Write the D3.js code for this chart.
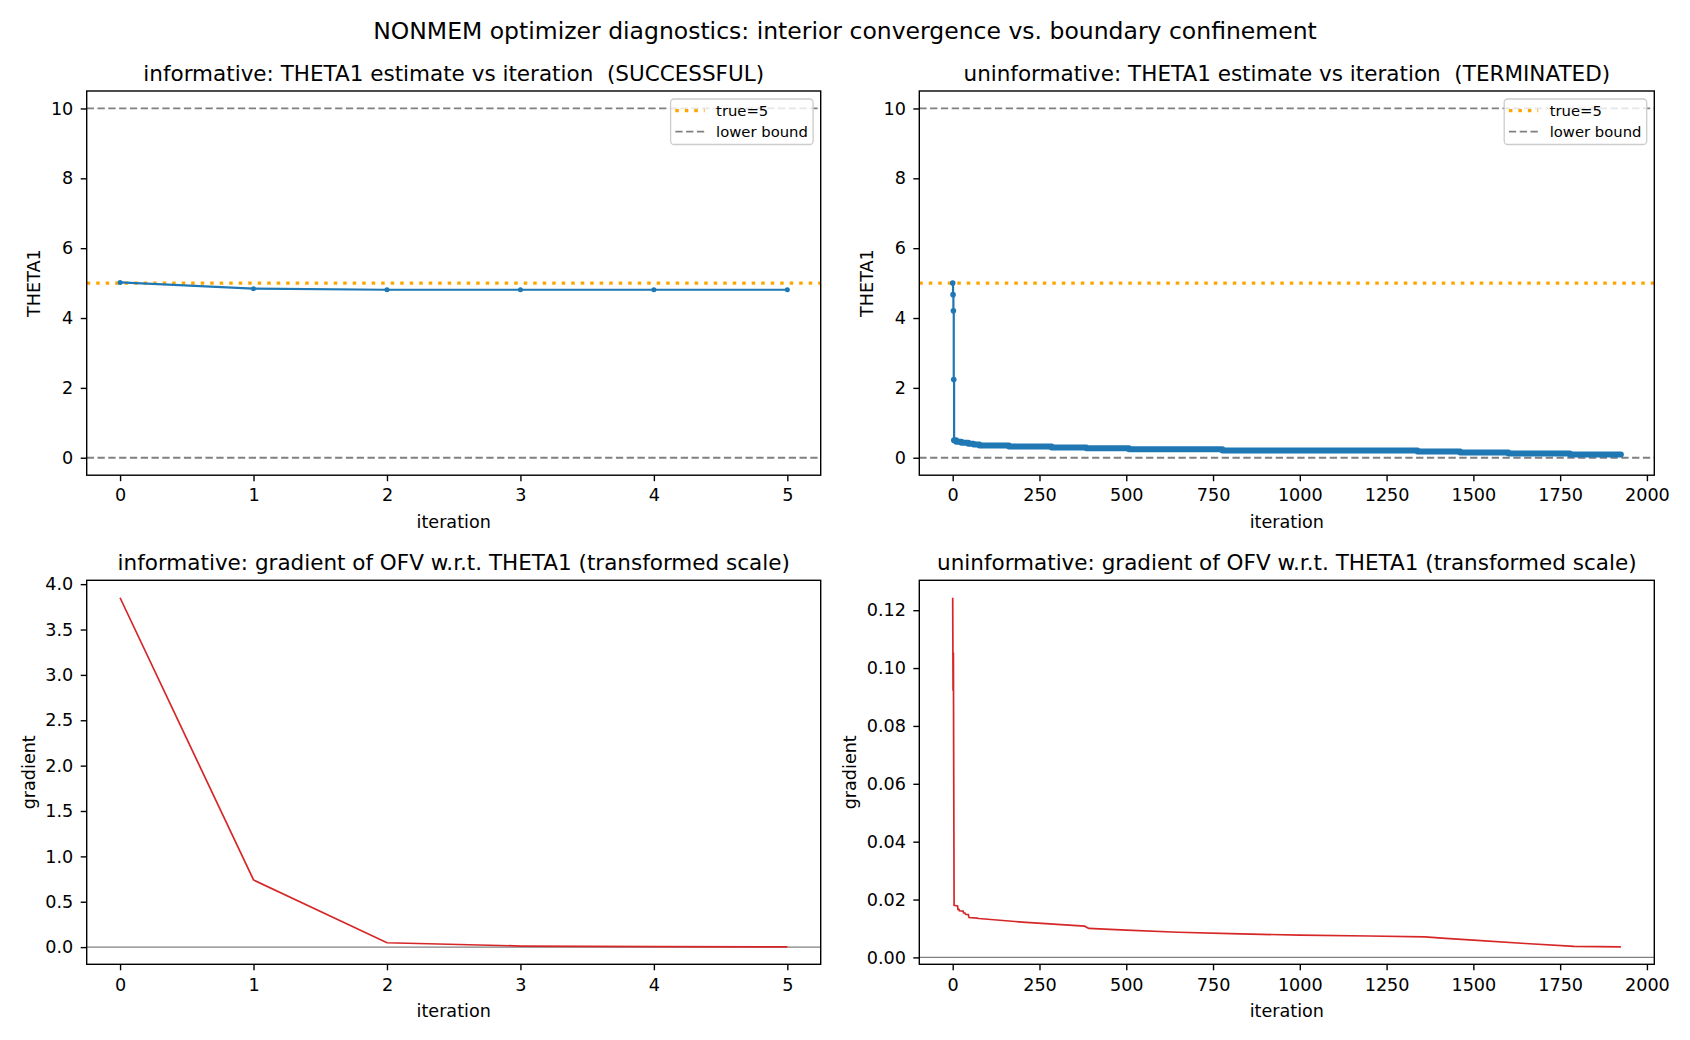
<!DOCTYPE html>
<html>
<head>
<meta charset="utf-8">
<script src="https://cdn.jsdelivr.net/npm/d3@7"></script>
<style>
  body { margin: 0; background: #fff; }
  text { font-family: "DejaVu Sans", sans-serif; fill: #000; }
</style>
</head>
<body>
<div id="chart"></div>
<script>
// ---- data ----
const infIter = [0, 1, 2, 3, 4, 5];
const infTheta = [5.02, 4.84, 4.81, 4.81, 4.81, 4.81];
const infGrad = [3.85, 0.74, 0.048, 0.012, 0.005, 0.003];

// uninformative run: estimate (step breakpoints) and gradient (vertices)
const unIter = [0, 1, 2, 3, 4, 10, 25, 45, 60, 77, 162, 285, 385, 508, 777, 1339, 1462, 1601, 1778, 1925];
const unTheta = [5.0, 4.67, 4.21, 2.24, 0.50, 0.46, 0.43, 0.40, 0.38, 0.35, 0.32, 0.29, 0.27, 0.24, 0.21, 0.18, 0.15, 0.12, 0.09, 0.09];
const unGradIter = [0, 1, 2, 4, 14, 15, 18, 19, 30, 31, 36, 37, 45, 47, 70, 75, 200, 380, 392, 500, 650, 800, 1000, 1200, 1360, 1420, 1500, 1650, 1790, 1925];
const unGrad = [0.1243, 0.0922, 0.1054, 0.0180, 0.0178, 0.0166, 0.0166, 0.0161, 0.0160, 0.0154, 0.0153, 0.0149, 0.0148, 0.0138, 0.0136, 0.01345, 0.0122, 0.0108, 0.0100, 0.0094, 0.0087, 0.0082, 0.0077, 0.0074, 0.0071, 0.0066, 0.0060, 0.0048, 0.0038, 0.00365];

const trueTheta = 5;
const boundLines = [0, 10];
const thetaTicks = [0, 2, 4, 6, 8, 10];
const infIterTicks = [0, 1, 2, 3, 4, 5];
const unIterTicks = [0, 250, 500, 750, 1000, 1250, 1500, 1750, 2000];
const infGradTicks = [0, 0.5, 1, 1.5, 2, 2.5, 3, 3.5, 4];
const unGradTicks = [0, 0.02, 0.04, 0.06, 0.08, 0.10, 0.12];

const legendItems = [
  { label: "true=5", color: "orange", dash: "3.5,6", width: 3.3 },
  { label: "lower bound", color: "#808080", dash: "7.3,3.5", width: 1.8 }
];

const width = 1690, height = 1040;
const tickFont = 17.6;

const svg = d3.select("#chart").append("svg")
  .attr("width", width)
  .attr("height", height);

svg.append("text")
  .attr("x", 845).attr("y", 39.3)
  .attr("text-anchor", "middle")
  .style("font-size", "23.5px")
  .text("NONMEM optimizer diagnostics: interior convergence vs. boundary confinement");

// pad a data extent like matplotlib autoscale (5%)
function padded(vals) {
  const [a, b] = d3.extent(vals);
  const m = (b - a) * 0.05;
  return [a - m, b + m];
}

function makePanel(opt) {
  const g = svg.append("g").attr("transform", `translate(${opt.x},${opt.y})`);
  const w = opt.w, h = opt.h;

  const x = d3.scaleLinear().domain(opt.xDomain).range([0, w]);
  const y = d3.scaleLinear().domain(opt.yDomain).range([h, 0]);

  const plot = g.append("g");

  // axes
  const xa = g.append("g").attr("transform", `translate(0,${h})`)
    .call(d3.axisBottom(x).tickValues(opt.xTicks).tickFormat(opt.xFormat || d3.format("d"))
      .tickSize(6).tickPadding(7.8).tickSizeOuter(0));
  const ya = g.append("g")
    .call(d3.axisLeft(y).tickValues(opt.yTicks).tickFormat(opt.yFormat || d3.format("d"))
      .tickSize(6).tickPadding(7.4).tickSizeOuter(0));
  [xa, ya].forEach(a => {
    a.attr("font-family", null).attr("font-size", null);
    a.select(".domain").remove();
    a.selectAll("line").attr("stroke", "#000").attr("stroke-width", 1.4);
    a.selectAll("text").style("font-size", tickFont + "px");
  });

  // frame
  g.append("rect").attr("width", w).attr("height", h)
    .attr("fill", "none").attr("stroke", "#000").attr("stroke-width", 1.4);

  // title
  g.append("text")
    .attr("x", w / 2).attr("y", -10)
    .attr("text-anchor", "middle")
    .style("font-size", "21.5px")
    .style("white-space", "pre")
    .text(opt.title);

  // x label
  g.append("text")
    .attr("x", w / 2).attr("y", h + 52.4)
    .attr("text-anchor", "middle")
    .style("font-size", tickFont + "px")
    .text("iteration");

  // y label placed left of the widest tick label
  let maxW = 0;
  ya.selectAll("text").each(function () { maxW = Math.max(maxW, this.getComputedTextLength()); });
  const bx = -13.4 - maxW - 10.5;
  g.append("text")
    .attr("transform", `translate(${bx},${h / 2}) rotate(-90)`)
    .attr("text-anchor", "middle")
    .style("font-size", tickFont + "px")
    .text(opt.yLabel);

  return { g: plot, x, y, w, h, root: g };
}

function drawLegend(p) {
  const lw = 142.5, lh = 45.5;
  const lg = p.root.append("g").attr("transform", `translate(${p.w - 7.6 - lw},8)`);
  lg.append("rect").attr("width", lw).attr("height", lh).attr("rx", 3.5)
    .attr("fill", "#fff").attr("fill-opacity", 0.8)
    .attr("stroke", "#cccccc").attr("stroke-width", 1.3);
  legendItems.forEach((d, i) => {
    const cy = 11.7 + i * 21;
    lg.append("line").attr("x1", 4.7).attr("x2", 34).attr("y1", cy).attr("y2", cy)
      .attr("stroke", d.color).attr("stroke-width", d.width).attr("stroke-dasharray", d.dash);
    lg.append("text").attr("x", 45.5).attr("y", cy + 5.3)
      .style("font-size", "14.8px").text(d.label);
  });
}

function refLines(p) {
  boundLines.forEach(v => {
    p.g.append("line").attr("x1", 0).attr("x2", p.w)
      .attr("y1", p.y(v)).attr("y2", p.y(v))
      .attr("stroke", "#808080").attr("stroke-width", 1.8).attr("stroke-dasharray", "7.3,3.5");
  });
  p.g.append("line").attr("x1", 0).attr("x2", p.w)
    .attr("y1", p.y(trueTheta)).attr("y2", p.y(trueTheta))
    .attr("stroke", "orange").attr("stroke-width", 3.3).attr("stroke-dasharray", "3.5,6");
}

function zeroLine(p) {
  p.g.append("line").attr("x1", 0).attr("x2", p.w)
    .attr("y1", p.y(0)).attr("y2", p.y(0))
    .attr("stroke", "#808080").attr("stroke-width", 1.3);
}

const blue = "#1f77b4", red = "#d62728";
const leftX = 86.7, rightX = 919.3, pw = 734, topY = 91, botY = 580.3, ph = 384.2;

// ---- top left: informative estimate ----
const p1 = makePanel({
  x: leftX, y: topY, w: pw, h: ph,
  xDomain: [-0.25, 5.25], yDomain: [-0.5, 10.5],
  xTicks: infIterTicks, yTicks: thetaTicks,
  title: "informative: THETA1 estimate vs iteration  (SUCCESSFUL)", yLabel: "THETA1"
});
refLines(p1);
const inf = infIter.map((t, i) => [t, infTheta[i]]);
p1.g.append("path").datum(inf)
  .attr("d", d3.line().x(d => p1.x(d[0])).y(d => p1.y(d[1])))
  .attr("fill", "none").attr("stroke", blue).attr("stroke-width", 2.2);
p1.g.selectAll("circle").data(inf).join("circle")
  .attr("cx", d => p1.x(d[0])).attr("cy", d => p1.y(d[1])).attr("r", 2.5).attr("fill", blue);
drawLegend(p1);

// ---- top right: uninformative estimate ----
const p2 = makePanel({
  x: rightX, y: topY, w: 735, h: ph,
  xDomain: padded(unIter), yDomain: [-0.5, 10.5],
  xTicks: unIterTicks, yTicks: thetaTicks,
  title: "uninformative: THETA1 estimate vs iteration  (TERMINATED)", yLabel: "THETA1"
});
refLines(p2);
const un = unIter.map((t, i) => [t, unTheta[i]]);
const stepLine = d3.line().x(d => p2.x(d[0])).y(d => p2.y(d[1])).curve(d3.curveStepAfter);
p2.g.append("path").datum(un).attr("d", stepLine)
  .attr("fill", "none").attr("stroke", blue).attr("stroke-width", 2.2);
// dense markers in the tail form a solid band
p2.g.append("path").datum(un.slice(4)).attr("d", stepLine)
  .attr("fill", "none").attr("stroke", blue).attr("stroke-width", 6)
  .attr("stroke-linecap", "round").attr("stroke-linejoin", "round");
p2.g.selectAll("circle").data(un.slice(0, 5)).join("circle")
  .attr("cx", d => p2.x(d[0])).attr("cy", d => p2.y(d[1])).attr("r", 2.8).attr("fill", blue);
drawLegend(p2);

// ---- bottom left: informative gradient ----
const p3 = makePanel({
  x: leftX, y: botY, w: pw, h: 384,
  xDomain: [-0.25, 5.25], yDomain: padded(infGrad),
  xTicks: infIterTicks, yTicks: infGradTicks, yFormat: d3.format(".1f"),
  title: "informative: gradient of OFV w.r.t. THETA1 (transformed scale)", yLabel: "gradient"
});
zeroLine(p3);
p3.g.append("path").datum(infIter.map((t, i) => [t, infGrad[i]]))
  .attr("d", d3.line().x(d => p3.x(d[0])).y(d => p3.y(d[1])))
  .attr("fill", "none").attr("stroke", red).attr("stroke-width", 1.7);

// ---- bottom right: uninformative gradient ----
const p4 = makePanel({
  x: rightX, y: botY, w: 735, h: 384,
  xDomain: padded(unIter), yDomain: padded(unGrad),
  xTicks: unIterTicks, yTicks: unGradTicks, yFormat: d3.format(".2f"),
  title: "uninformative: gradient of OFV w.r.t. THETA1 (transformed scale)", yLabel: "gradient"
});
zeroLine(p4);
p4.g.append("path").datum(unGradIter.map((t, i) => [t, unGrad[i]]))
  .attr("d", d3.line().x(d => p4.x(d[0])).y(d => p4.y(d[1])))
  .attr("fill", "none").attr("stroke", red).attr("stroke-width", 1.7);
</script>
</body>
</html>
